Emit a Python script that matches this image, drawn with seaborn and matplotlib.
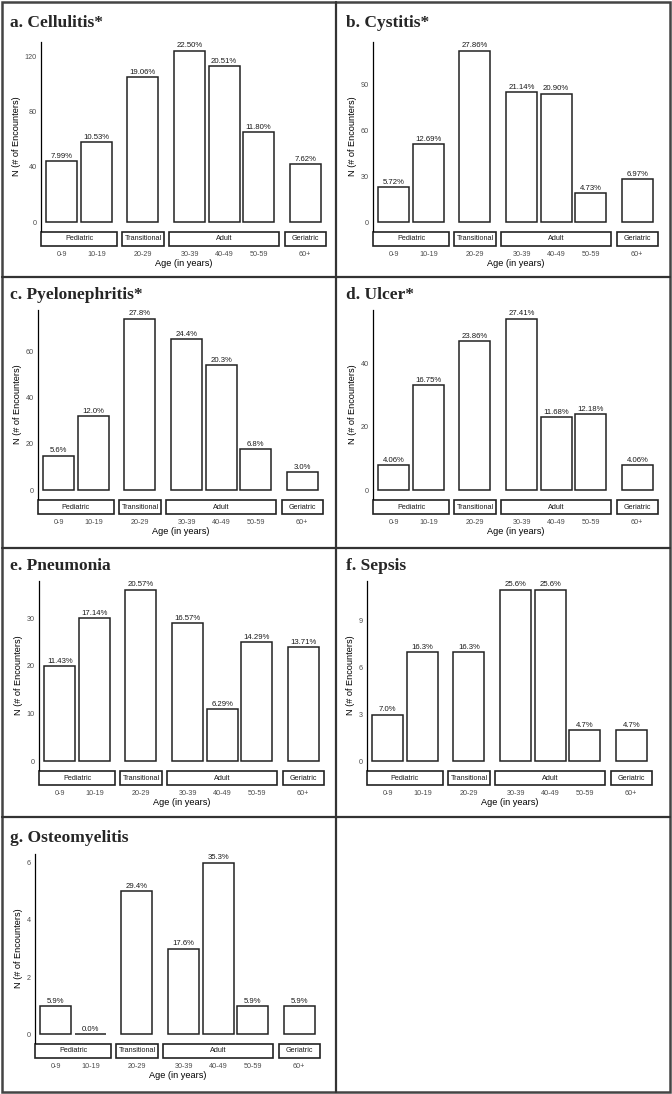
import numpy as np
import pandas as pd
import matplotlib
matplotlib.use("Agg")
import matplotlib.pyplot as plt
import matplotlib.transforms as mtransforms
from matplotlib.patches import Rectangle
from matplotlib.lines import Line2D
import seaborn as sns

# age bins and the facet group each one belongs to
age_labels = ["0-9", "10-19", "20-29", "30-39", "40-49", "50-59", "60+"]
age_groups = ["Pediatric", "Pediatric", "Transitional", "Adult", "Adult", "Adult", "Geriatric"]
group_names = ["Pediatric", "Transitional", "Adult", "Geriatric"]

# encounter counts per age bin
cellulitis = [44, 58, 105, 124, 113, 65, 42]
cystitis = [23, 51, 112, 85, 84, 19, 28]
pyelonephritis = [15, 32, 74, 65, 54, 18, 8]
ulcer = [8, 33, 47, 54, 23, 24, 8]
pneumonia = [20, 30, 36, 29, 11, 25, 24]
sepsis = [3, 7, 7, 11, 11, 2, 2]
osteomyelitis = [1, 0, 5, 3, 6, 1, 1]

titles = ["a. Cellulitis*", "b. Cystitis*", "c. Pyelonephritis*", "d. Ulcer*",
          "e. Pneumonia", "f. Sepsis", "g. Osteomyelitis"]
panel_counts = [cellulitis, cystitis, pyelonephritis, ulcer, pneumonia, sepsis, osteomyelitis]
pct_decimals = [2, 2, 1, 2, 2, 1, 1]
tick_steps = [40, 30, 20, 20, 10, 3, 2]

sns.set_style("white")
plt.rcParams['font.family'] = ['Liberation Sans', 'DejaVu Sans']

W, H = 672, 1094
fig = plt.figure(figsize=(W / 100, H / 100), dpi=100)

def fx(px):
    return px / W

def fy(py):
    return 1 - py / H

# x positions with a small gap between facet groups (like ggplot facets)
gidx = np.array([group_names.index(g) for g in age_groups])
pos = np.arange(len(age_labels)) + gidx * 0.35

# layout in pixels
row_top = [42, 310, 581, 854]
ax_h = 189
ax_w = 285
col_x0 = [0, 336]
left_off = [41, 37, 38, 37, 39, 31, 35]
title_y = [23, 295, 566, 838]
strip_h = 14

for i, counts in enumerate(panel_counts):
    r, c = i // 2, i % 2
    x0 = col_x0[c] + left_off[i]
    top = row_top[r]
    ax = fig.add_axes([fx(x0), fy(top + ax_h), fx(ax_w), ax_h / H])

    df = pd.DataFrame({"pos": pos, "n": counts, "age": age_labels})
    sns.barplot(data=df, x="pos", y="n", native_scale=True, color="white",
                edgecolor="#222222", linewidth=1.1, width=0.9, errorbar=None, ax=ax)

    total = sum(counts)
    for p, n in zip(pos, counts):
        ax.annotate(f"{n / total * 100:.{pct_decimals[i]}f}%", (p, n), xytext=(0, 0.8),
                    textcoords="offset points", ha="center", va="bottom",
                    fontsize=5.6, color="#1A1A1A")

    ymax = max(counts)
    ax.set_xlim(pos[0] - 0.6, pos[-1] + 0.6)
    ax.set_ylim(-0.05 * ymax, 1.05 * ymax)
    ax.set_yticks(np.arange(0, ymax + 1e-9, tick_steps[i]))
    ax.set_xticks(pos)
    ax.set_xticklabels(age_labels)

    for s in ["top", "right"]:
        ax.spines[s].set_visible(False)
    ax.spines["left"].set_linewidth(0.9)
    ax.spines["left"].set_color("black")
    ax.spines["bottom"].set_position(("outward", (strip_h + 2) * 0.72))
    ax.spines["bottom"].set_visible(False)
    ax.tick_params(axis="both", length=2, width=0.6, color="#555555",
                   labelsize=5.2, labelcolor="#4D4D4D", pad=1)

    ax.set_xlabel("Age (in years)", fontsize=6.6, labelpad=0.5, color="black")
    ax.set_ylabel("N (# of Encounters)", fontsize=6.6, labelpad=3, color="black")

    # facet strips under the panel
    trans = mtransforms.blended_transform_factory(ax.transData, fig.transFigure)
    s_top = top + ax_h + 1
    for g in group_names:
        gp = pos[[k for k, a in enumerate(age_groups) if a == g]]
        xa, xb = gp.min() - 0.6, gp.max() + 0.6
        ax.add_patch(Rectangle((xa, fy(s_top + strip_h)), xb - xa, strip_h / H,
                               transform=trans, facecolor="white", edgecolor="#222222",
                               linewidth=1.2, clip_on=False))
        ax.text((xa + xb) / 2, fy(s_top + strip_h / 2), g, transform=trans,
                ha="center", va="center", fontsize=5.2, color="#1A1A1A")

    fig.text(fx(col_x0[c] + 10), fy(title_y[r]), titles[i], ha="left", va="center",
             fontsize=12.5, fontweight="bold", family="Liberation Serif")

# panel borders
fig.add_artist(Rectangle((fx(2), fy(1092)), fx(668), 1090 / H, transform=fig.transFigure,
                         fill=False, edgecolor="#444444", linewidth=1.8))
fig.add_artist(Line2D([fx(336), fx(336)], [fy(2), fy(1092)], transform=fig.transFigure,
                      color="#333333", linewidth=1.6))
for yb in [277, 548, 817]:
    fig.add_artist(Line2D([fx(2), fx(670)], [fy(yb), fy(yb)], transform=fig.transFigure,
                          color="#333333", linewidth=1.6))

fig.savefig("out.png", dpi=100)
